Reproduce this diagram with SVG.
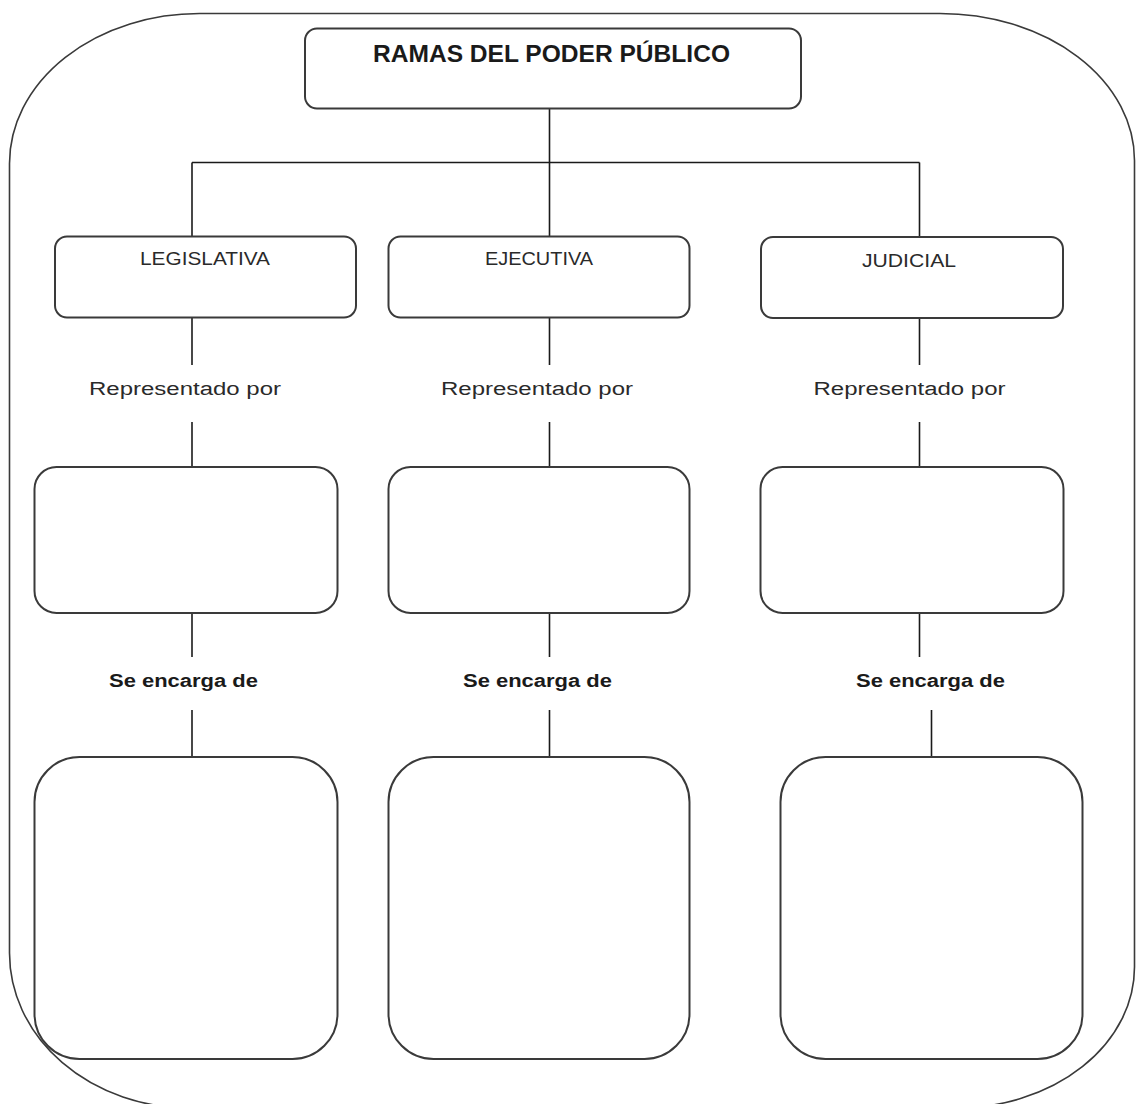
<svg xmlns="http://www.w3.org/2000/svg" width="1136" height="1104" viewBox="0 0 1136 1104">
<style>
.frame{fill:none;stroke:#3a3a3a;stroke-width:1.6}
.box{fill:#ffffff;stroke:#3a3a3a;stroke-width:2}
.conn{fill:none;stroke:#1a1a1a;stroke-width:1.6}
.t{font-family:"Liberation Sans",Arial,sans-serif;fill:#2a2a2a;text-anchor:middle}
.title{font-size:24px;font-weight:bold;fill:#1a1a1a}
.branch{font-size:18px}
.lab{font-size:18px}
.labb{font-size:18px;font-weight:bold;fill:#1a1a1a}
</style>
<rect width="1136" height="1104" fill="#ffffff"/>
<g id="frame">
<path class="frame" d="M200,13.5 L940,13.5 A194.5,147 0 0 1 1134.5,160.5 L1134.5,967 A178,141 0 0 1 956.5,1108 L189,1108 A180,155 0 0 1 9.5,953 L9.5,163.5 A190,150 0 0 1 200,13.5 Z"/>
</g>
<g id="connectors">
<path class="conn" d="M549.5,108 V236"/>
<path class="conn" d="M192,162.5 H919.5"/>
<path class="conn" d="M192,162.5 V236"/>
<path class="conn" d="M919.5,162.5 V236"/>
<path class="conn" d="M192,317 V365"/>
<path class="conn" d="M549.5,317 V365"/>
<path class="conn" d="M919.5,318 V365"/>
<path class="conn" d="M192,422 V467"/>
<path class="conn" d="M549.5,422 V467"/>
<path class="conn" d="M919.5,422 V467"/>
<path class="conn" d="M192,613 V657"/>
<path class="conn" d="M549.5,613 V657"/>
<path class="conn" d="M919.5,613 V657"/>
<path class="conn" d="M192,710 V757"/>
<path class="conn" d="M549.5,710 V757"/>
<path class="conn" d="M931.5,710 V757"/>
</g>
<g id="title">
<rect class="box" x="305" y="28.5" width="496" height="80" rx="12"/>
<text class="t title" x="551.5" y="62" textLength="357" lengthAdjust="spacingAndGlyphs">RAMAS DEL PODER PÚBLICO</text>
</g>
<g id="legislativa">
<rect class="box" x="55" y="236.5" width="301" height="81" rx="12"/>
<text class="t branch" x="205" y="265" textLength="130" lengthAdjust="spacingAndGlyphs">LEGISLATIVA</text>
</g>
<g id="ejecutiva">
<rect class="box" x="388.5" y="236.5" width="301" height="81" rx="12"/>
<text class="t branch" x="539" y="265" textLength="108" lengthAdjust="spacingAndGlyphs">EJECUTIVA</text>
</g>
<g id="judicial">
<rect class="box" x="761" y="237" width="302" height="81" rx="12"/>
<text class="t branch" x="909" y="267" textLength="94" lengthAdjust="spacingAndGlyphs">JUDICIAL</text>
</g>
<g id="labels-representado">
<text class="t lab" x="185" y="395" textLength="192" lengthAdjust="spacingAndGlyphs">Representado por</text>
<text class="t lab" x="537" y="395" textLength="192" lengthAdjust="spacingAndGlyphs">Representado por</text>
<text class="t lab" x="909.5" y="395" textLength="192" lengthAdjust="spacingAndGlyphs">Representado por</text>
</g>
<g id="rep-legislativa">
<rect class="box" x="34.5" y="467" width="303" height="146" rx="22"/>
</g>
<g id="rep-ejecutiva">
<rect class="box" x="388.5" y="467" width="301" height="146" rx="22"/>
</g>
<g id="rep-judicial">
<rect class="box" x="760.5" y="467" width="303" height="146" rx="22"/>
</g>
<g id="labels-encarga">
<text class="t labb" x="183.5" y="687" textLength="149" lengthAdjust="spacingAndGlyphs">Se encarga de</text>
<text class="t labb" x="537.5" y="687" textLength="149" lengthAdjust="spacingAndGlyphs">Se encarga de</text>
<text class="t labb" x="930.5" y="687" textLength="149" lengthAdjust="spacingAndGlyphs">Se encarga de</text>
</g>
<g id="func-legislativa">
<rect class="box" x="34.5" y="757" width="303" height="302" rx="45"/>
</g>
<g id="func-ejecutiva">
<rect class="box" x="388.5" y="757" width="301" height="302" rx="45"/>
</g>
<g id="func-judicial">
<rect class="box" x="780.5" y="757" width="302" height="302" rx="45"/>
</g>
</svg>
